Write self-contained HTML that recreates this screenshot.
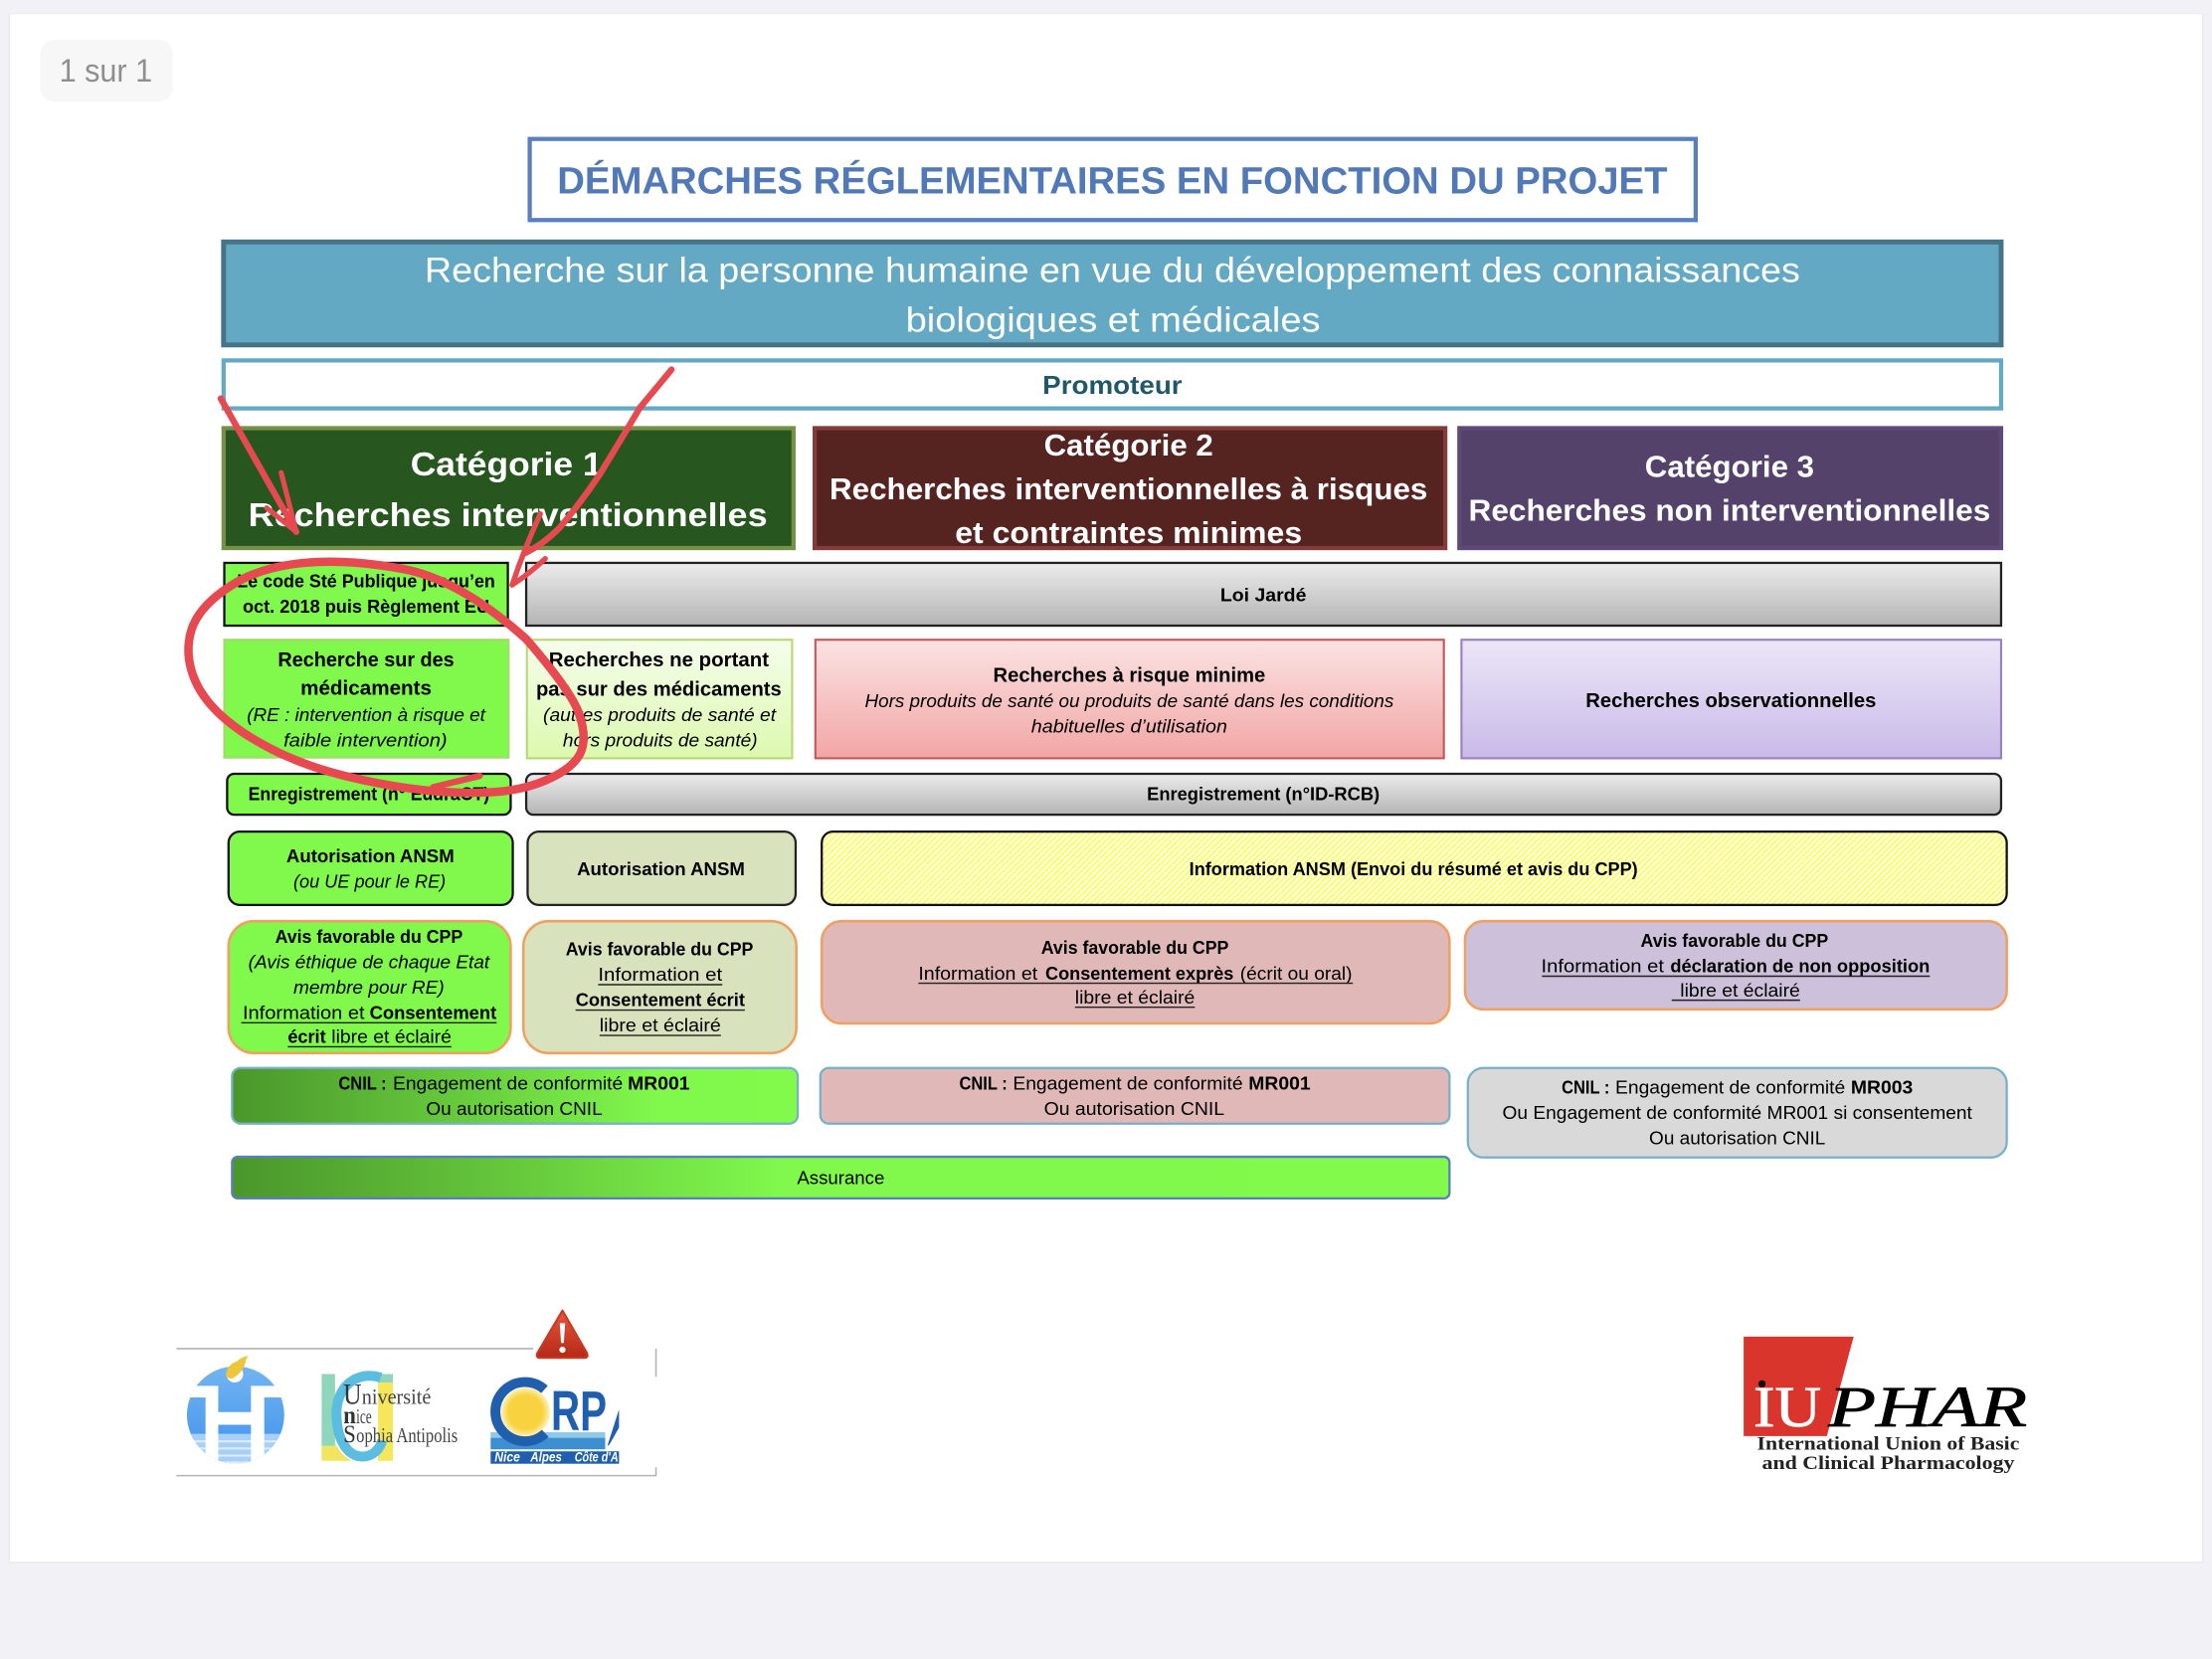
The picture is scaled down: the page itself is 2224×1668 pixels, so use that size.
<!DOCTYPE html>
<html lang="fr"><head><meta charset="utf-8"><title>Démarches réglementaires</title>
<style>
html,body{margin:0;padding:0;background:#f1f1f6;width:2224px;height:1668px;overflow:hidden}
svg{display:block}
text{font-family:"Liberation Sans",sans-serif;fill:#000;font-size:13px;transform:translateY(-0.7px)}
.n{transform:none}
.b{font-weight:bold}.i{font-style:italic}
.m{font-size:14.3px}
.sf{font-family:"Liberation Serif",serif}
.u{stroke:#222;stroke-width:1;fill:none}
.red{fill:none;stroke:#e64a50;stroke-linecap:round;stroke-linejoin:round}
</style></head><body>
<svg xmlns="http://www.w3.org/2000/svg" width="2224" height="1668" viewBox="0 0 1568 1176">
<defs>
<linearGradient id="g1" x1="0" x2="0" y1="0" y2="1"><stop offset="0" stop-color="#ececec"/><stop offset="1" stop-color="#b4b4b4"/></linearGradient>
<linearGradient id="gl" x1="0" x2="0" y1="0" y2="1"><stop offset="0" stop-color="#f6fdec"/><stop offset="1" stop-color="#dcf9ae"/></linearGradient>
<linearGradient id="gp" x1="0" x2="0" y1="0" y2="1"><stop offset="0" stop-color="#fbe3e3"/><stop offset="1" stop-color="#f2a5a5"/></linearGradient>
<linearGradient id="gv" x1="0" x2="0" y1="0" y2="1"><stop offset="0" stop-color="#ece6f8"/><stop offset="1" stop-color="#c9bae8"/></linearGradient>
<linearGradient id="gg" x1="0" x2="1" y1="0" y2="0"><stop offset="0" stop-color="#4a962b"/><stop offset=".75" stop-color="#80f84c"/><stop offset="1" stop-color="#82fa4c"/></linearGradient>
<linearGradient id="ga" x1="0" x2="1" y1="0" y2="0"><stop offset="0" stop-color="#4a962b"/><stop offset=".45" stop-color="#80f84c"/><stop offset="1" stop-color="#82fa4c"/></linearGradient>
<linearGradient id="gt" x1="0" x2="0" y1="0" y2="1"><stop offset="0" stop-color="#e8553f"/><stop offset="1" stop-color="#b52a15"/></linearGradient>
<linearGradient id="gb" x1="0" x2="0" y1="0" y2="1"><stop offset="0" stop-color="#74b6f1"/><stop offset="1" stop-color="#3f90ec"/></linearGradient>
<radialGradient id="gs"><stop offset=".7" stop-color="#f9d33f"/><stop offset="1" stop-color="#fdf2c0"/></radialGradient>
<pattern id="h" width="3" height="3" patternUnits="userSpaceOnUse" patternTransform="rotate(45)"><rect width="3" height="3" fill="#fffff2"/><rect width="1.4" height="3" fill="#fdfd5e"/></pattern>
<clipPath id="cc"><circle cx="167" cy="1003" r="34.5"/></clipPath>
</defs>

<!-- page -->
<rect x="0" y="0" width="1568" height="1176" fill="#f1f1f6"/>
<rect x="6" y="9.5" width="1556" height="1098.5" fill="#e9e9ed"/>
<rect x="7" y="10" width="1554" height="1097" fill="#fff"/>
<rect x="28.5" y="28" width="94" height="44" rx="10" fill="#f7f7f7"/>
<text x="42" y="58" class="n" style="font-size:23px;fill:#8e8e8e" textLength="66" lengthAdjust="spacingAndGlyphs">1 sur 1</text>

<!-- title -->
<rect x="375.5" y="98.5" width="826.5" height="57.5" fill="#fff" stroke="#5a7fbd" stroke-width="3"/>
<text x="395" y="137.7" class="b" style="font-size:27px;fill:#5179b8" textLength="787" lengthAdjust="spacingAndGlyphs">DÉMARCHES RÉGLEMENTAIRES EN FONCTION DU PROJET</text>

<!-- teal -->
<rect x="158.5" y="171.5" width="1260" height="73" fill="#64a9c4" stroke="#467486" stroke-width="3.5"/>
<text x="301" y="200.5" style="font-size:25px;fill:#fff" textLength="975" lengthAdjust="spacingAndGlyphs">Recherche sur la personne humaine en vue du développement des connaissances</text>
<text x="642" y="235.7" style="font-size:25px;fill:#fff" textLength="294" lengthAdjust="spacingAndGlyphs">biologiques et médicales</text>

<!-- promoteur -->
<rect x="158.5" y="255.5" width="1260" height="34" fill="#fff" stroke="#64a9c4" stroke-width="3"/>
<text x="739" y="280" class="b" style="font-size:18px;fill:#215868" textLength="99" lengthAdjust="spacingAndGlyphs">Promoteur</text>

<!-- categories -->
<rect x="158.5" y="303.5" width="404" height="85" fill="#27561f" stroke="#76904a" stroke-width="3"/>
<text x="291" y="337.7" class="b" style="font-size:23.5px;fill:#fff" textLength="136" lengthAdjust="spacingAndGlyphs">Catégorie 1</text>
<text x="176" y="373.7" class="b" style="font-size:23.5px;fill:#fff" textLength="368" lengthAdjust="spacingAndGlyphs">Recherches interventionnelles</text>

<rect x="577.5" y="303.5" width="447" height="85" fill="#552320" stroke="#843c39" stroke-width="3"/>
<text x="740" y="323.7" class="b" style="font-size:21.5px;fill:#fff" textLength="120" lengthAdjust="spacingAndGlyphs">Catégorie 2</text>
<text x="588" y="354.7" class="b" style="font-size:21.5px;fill:#fff" textLength="424" lengthAdjust="spacingAndGlyphs">Recherches interventionnelles à risques</text>
<text x="677" y="385.7" class="b" style="font-size:21.5px;fill:#fff" textLength="246" lengthAdjust="spacingAndGlyphs">et contraintes minimes</text>

<rect x="1034.5" y="303.5" width="384" height="85" fill="#54426b" stroke="#5f497a" stroke-width="3"/>
<text x="1166" y="338.7" class="b" style="font-size:21.5px;fill:#fff" textLength="120" lengthAdjust="spacingAndGlyphs">Catégorie 3</text>
<text x="1041" y="369.7" class="b" style="font-size:21.5px;fill:#fff" textLength="370" lengthAdjust="spacingAndGlyphs">Recherches non interventionnelles</text>

<!-- row loi -->
<rect x="159" y="399" width="201" height="44.5" fill="#80f84c" stroke="#111" stroke-width="1.6"/>
<text x="168" y="417" class="b" textLength="183" lengthAdjust="spacingAndGlyphs">Le code Sté Publique jusqu’en</text>
<text x="172" y="435" class="b" textLength="175" lengthAdjust="spacingAndGlyphs">oct. 2018 puis Règlement EU</text>
<rect x="373" y="399" width="1045.5" height="44.5" fill="url(#g1)" stroke="#222" stroke-width="1.6"/>
<text x="865" y="427" class="b" textLength="61" lengthAdjust="spacingAndGlyphs">Loi Jardé</text>

<!-- row types -->
<rect x="159" y="453.5" width="201.5" height="83.5" fill="#80f84c" stroke="#a6d86e" stroke-width="1.5"/>
<text x="197" y="473" class="b m" textLength="125" lengthAdjust="spacingAndGlyphs">Recherche sur des</text>
<text x="213" y="493" class="b m" textLength="93" lengthAdjust="spacingAndGlyphs">médicaments</text>
<text x="175" y="512" class="i" textLength="169" lengthAdjust="spacingAndGlyphs">(RE : intervention à risque et</text>
<text x="201" y="530" class="i" textLength="116" lengthAdjust="spacingAndGlyphs">faible intervention)</text>

<rect x="373.5" y="453.5" width="188" height="84" fill="url(#gl)" stroke="#b8d878" stroke-width="1.5"/>
<text x="389" y="473" class="b m" textLength="156" lengthAdjust="spacingAndGlyphs">Recherches ne portant</text>
<text x="380" y="494" class="b m" textLength="174" lengthAdjust="spacingAndGlyphs">pas sur des médicaments</text>
<text x="385" y="512" class="i" textLength="165" lengthAdjust="spacingAndGlyphs">(autres produits de santé et</text>
<text x="399" y="530" class="i" textLength="138" lengthAdjust="spacingAndGlyphs">hors produits de santé)</text>

<rect x="578" y="453.5" width="445.5" height="84" fill="url(#gp)" stroke="#c25a5a" stroke-width="1.5"/>
<text x="704" y="484" class="b m" textLength="193" lengthAdjust="spacingAndGlyphs">Recherches à risque minime</text>
<text x="613" y="502" class="i" textLength="375" lengthAdjust="spacingAndGlyphs">Hors produits de santé ou produits de santé dans les conditions</text>
<text x="731" y="520" class="i" textLength="139" lengthAdjust="spacingAndGlyphs">habituelles d’utilisation</text>

<rect x="1036" y="453.5" width="382.5" height="84" fill="url(#gv)" stroke="#9a80c0" stroke-width="1.5"/>
<text x="1124" y="502" class="b m" textLength="206" lengthAdjust="spacingAndGlyphs">Recherches observationnelles</text>

<!-- enregistrement -->
<rect x="161" y="548.5" width="201" height="29" rx="5" fill="#80f84c" stroke="#111" stroke-width="1.6"/>
<text x="176" y="568" class="b" textLength="171" lengthAdjust="spacingAndGlyphs">Enregistrement (n° EudraCT)</text>
<rect x="373" y="548.5" width="1045.5" height="29" rx="5" fill="url(#g1)" stroke="#222" stroke-width="1.6"/>
<text x="813" y="568" class="b" textLength="165" lengthAdjust="spacingAndGlyphs">Enregistrement  (n°ID-RCB)</text>

<!-- autorisation -->
<rect x="162" y="589.5" width="201.5" height="52" rx="8" fill="#80f84c" stroke="#111" stroke-width="1.6"/>
<text x="203" y="612" class="b" textLength="119" lengthAdjust="spacingAndGlyphs">Autorisation ANSM</text>
<text x="208" y="630" class="i" textLength="108" lengthAdjust="spacingAndGlyphs">(ou UE pour le RE)</text>
<rect x="374" y="589.5" width="190" height="52" rx="8" fill="#d8e2bd" stroke="#222" stroke-width="1.6"/>
<text x="409" y="621" class="b" textLength="119" lengthAdjust="spacingAndGlyphs">Autorisation ANSM</text>
<rect x="582.5" y="589.5" width="840" height="52" rx="8" fill="url(#h)" stroke="#111" stroke-width="1.6"/>
<text x="843" y="621" class="b" textLength="318" lengthAdjust="spacingAndGlyphs">Information ANSM (Envoi du résumé et avis du CPP)</text>

<!-- avis -->
<rect x="162" y="653" width="200" height="93.5" rx="18" fill="#80f84c" stroke="#f0a060" stroke-width="1.8"/>
<text x="195" y="669" class="b" textLength="133" lengthAdjust="spacingAndGlyphs">Avis favorable du CPP</text>
<text x="176" y="687" class="i" textLength="171" lengthAdjust="spacingAndGlyphs">(Avis éthique de chaque Etat</text>
<text x="208" y="705" class="i" textLength="107" lengthAdjust="spacingAndGlyphs">membre pour RE)</text>
<text x="172" y="723" textLength="86.5" lengthAdjust="spacingAndGlyphs">Information et</text>
<text x="262" y="723" class="b" textLength="90" lengthAdjust="spacingAndGlyphs">Consentement</text>
<line x1="171" x2="352" y1="725" y2="725" class="u"/>
<text x="204" y="740" class="b" textLength="27" lengthAdjust="spacingAndGlyphs">écrit</text>
<text x="235" y="740" textLength="85" lengthAdjust="spacingAndGlyphs">libre et éclairé</text>
<line x1="204" x2="320" y1="742" y2="742" class="u"/>

<rect x="371" y="653" width="193.5" height="93.5" rx="18" fill="#d8e2bd" stroke="#f0a060" stroke-width="1.8"/>
<text x="401" y="678" class="b" textLength="133" lengthAdjust="spacingAndGlyphs">Avis favorable du CPP</text>
<text x="424" y="696" textLength="88" lengthAdjust="spacingAndGlyphs">Information et</text>
<line x1="424" x2="512" y1="698" y2="698" class="u"/>
<text x="408" y="714" class="b" textLength="120" lengthAdjust="spacingAndGlyphs">Consentement écrit</text>
<line x1="408" x2="528" y1="716" y2="716" class="u"/>
<text x="425" y="732" textLength="86" lengthAdjust="spacingAndGlyphs">libre et éclairé</text>
<line x1="425" x2="511" y1="734" y2="734" class="u"/>

<rect x="582.5" y="653" width="445" height="72.5" rx="14" fill="#e0b8b8" stroke="#f0a060" stroke-width="1.8"/>
<text x="738" y="677" class="b" textLength="133" lengthAdjust="spacingAndGlyphs">Avis favorable du CPP</text>
<text x="651" y="695" textLength="84.5" lengthAdjust="spacingAndGlyphs">Information et</text>
<text x="741" y="695" class="b" textLength="133.5" lengthAdjust="spacingAndGlyphs">Consentement exprès</text>
<text x="879" y="695" textLength="79.5" lengthAdjust="spacingAndGlyphs">(écrit ou oral)</text>
<line x1="651" x2="959" y1="697" y2="697" class="u"/>
<text x="762" y="712" textLength="85" lengthAdjust="spacingAndGlyphs">libre et éclairé</text>
<line x1="762" x2="847" y1="714" y2="714" class="u"/>

<rect x="1038.5" y="653" width="384" height="62.5" rx="13" fill="#ccc0da" stroke="#f0a060" stroke-width="1.8"/>
<text x="1163" y="672" class="b" textLength="133" lengthAdjust="spacingAndGlyphs">Avis favorable du CPP</text>
<text x="1092.5" y="690" textLength="87" lengthAdjust="spacingAndGlyphs">Information et</text>
<text x="1184" y="690" class="b" textLength="184" lengthAdjust="spacingAndGlyphs">déclaration de non opposition</text>
<line x1="1093" x2="1368" y1="692" y2="692" class="u"/>
<text x="1191" y="707" textLength="85" lengthAdjust="spacingAndGlyphs">libre et éclairé</text>
<line x1="1185" x2="1276" y1="709" y2="709" class="u"/>

<!-- CNIL -->
<rect x="164.5" y="757" width="401" height="39.5" rx="6" fill="url(#gg)" stroke="#78b0c8" stroke-width="1.6"/>
<text x="240" y="773" class="b" textLength="34" lengthAdjust="spacingAndGlyphs">CNIL :</text>
<text x="278.5" y="773" textLength="163" lengthAdjust="spacingAndGlyphs">Engagement de conformité</text>
<text x="445" y="773" class="b" textLength="44" lengthAdjust="spacingAndGlyphs">MR001</text>
<text x="302" y="791" textLength="125" lengthAdjust="spacingAndGlyphs">Ou autorisation CNIL</text>

<rect x="581.5" y="757" width="446" height="39.5" rx="6" fill="#e0b8b8" stroke="#78b0c8" stroke-width="1.6"/>
<text x="680" y="773" class="b" textLength="34" lengthAdjust="spacingAndGlyphs">CNIL :</text>
<text x="718" y="773" textLength="163" lengthAdjust="spacingAndGlyphs">Engagement de conformité</text>
<text x="885" y="773" class="b" textLength="44" lengthAdjust="spacingAndGlyphs">MR001</text>
<text x="740" y="791" textLength="128" lengthAdjust="spacingAndGlyphs">Ou  autorisation CNIL</text>

<rect x="1040.5" y="757" width="382" height="63.5" rx="11" fill="#d9d9d9" stroke="#78b0c8" stroke-width="1.6"/>
<text x="1107" y="776" class="b" textLength="34" lengthAdjust="spacingAndGlyphs">CNIL :</text>
<text x="1145" y="776" textLength="163" lengthAdjust="spacingAndGlyphs">Engagement de conformité</text>
<text x="1312" y="776" class="b" textLength="44" lengthAdjust="spacingAndGlyphs">MR003</text>
<text x="1065" y="794" textLength="333" lengthAdjust="spacingAndGlyphs">Ou Engagement de conformité MR001 si consentement</text>
<text x="1169" y="812" textLength="125" lengthAdjust="spacingAndGlyphs">Ou autorisation CNIL</text>

<!-- assurance -->
<rect x="164.5" y="820" width="863" height="29.5" rx="4" fill="url(#ga)" stroke="#5a7fbd" stroke-width="1.6"/>
<text x="565" y="840" textLength="62" lengthAdjust="spacingAndGlyphs">Assurance</text>

<!-- logo frame -->
<path d="M125 956H378M465 956V976M465 1040V1046H125" fill="none" stroke="#b4b4b4" stroke-width="1.1"/>

<!-- hospital logo -->
<g clip-path="url(#cc)">
<rect x="130" y="966" width="74" height="74" fill="url(#gb)"/>
<rect x="130" y="1016.4" width="74" height="24" fill="#a8cff6"/>
<path d="M130 1021h74v1.5H130zM130 1026h74v1.5H130zM130 1031h74v1.5H130zM130 1036h74v1.5H130z" fill="#dcecfb"/>
<path d="M130 990.6V982.4h24.7v18.6h23.2V982.4H204V990.6H187.3V1040H177.9V1010H154.7V1040H145.7V990.6z" fill="#fff"/>
</g>
<circle cx="166.4" cy="974" r="6" fill="#fff"/>
<path d="M160 975q1-8 8-10 3-3 8-4-2 3-2 5-2 7-9 11-3 1-5-2z" fill="#eec63c"/>

<!-- UNS logo -->
<rect x="228" y="974" width="9.5" height="51" fill="#8fd6bd"/>
<rect x="228" y="1025" width="9.5" height="10.5" fill="#f2e45c"/>
<path d="M237.5 1022q3 9 12 13.5h-12z" fill="#f2e45c"/>
<rect x="268" y="974" width="10.5" height="8" fill="#8fd6bd"/>
<rect x="268" y="980" width="10.5" height="55.5" fill="#f5e65a"/>
<path d="M270 976.5C252 971 238 984 238.5 1003C239 1022 247 1033 258 1032.5C264 1032 269 1028 271 1021" fill="none" stroke="#5bbde0" stroke-width="7"/>
<text x="243.3" y="995.3" class="sf n" style="font-size:21px;fill:#333" textLength="13" lengthAdjust="spacingAndGlyphs">U</text>
<text x="256.5" y="995.3" class="sf n" style="font-size:15.5px;fill:#444" textLength="49" lengthAdjust="spacingAndGlyphs">niversité</text>
<text x="243.3" y="1009" class="sf b n" style="font-size:18px;fill:#333" textLength="9" lengthAdjust="spacingAndGlyphs">n</text>
<text x="252.5" y="1009" class="sf n" style="font-size:14.5px;fill:#444" textLength="11" lengthAdjust="spacingAndGlyphs">ice</text>
<text x="243.3" y="1022.3" class="sf n" style="font-size:18px;fill:#333" textLength="9" lengthAdjust="spacingAndGlyphs">S</text>
<text x="252.5" y="1022.3" class="sf n" style="font-size:14.5px;fill:#444" textLength="72" lengthAdjust="spacingAndGlyphs">ophia Antipolis</text>

<!-- CRPV logo -->
<rect x="347.8" y="1015.2" width="81.2" height="4" fill="#8fc8e8"/>
<rect x="347.8" y="1019.2" width="81.2" height="8.2" fill="#3d8fd0"/>
<rect x="347.8" y="1028.8" width="91" height="8.8" fill="#1f5fae"/>
<circle cx="372.5" cy="1001" r="17.5" fill="url(#gs)"/>
<path d="M386 984.9A21 21 0 1 0 386.5 1016" fill="none" stroke="#1f5fae" stroke-width="7"/>
<text x="390.6" y="1014" class="b n" style="font-size:40px;fill:#1f5fae" textLength="39.5" lengthAdjust="spacingAndGlyphs">RP</text>
<path d="M430.5 1025L438.8 999V1012L432 1024z" fill="#1f5fae"/>
<text x="350.6" y="1035.9" class="b i n" style="font-size:10px;fill:#fff" textLength="18" lengthAdjust="spacingAndGlyphs">Nice</text>
<text x="376" y="1035.9" class="b i n" style="font-size:10px;fill:#fff" textLength="22.3" lengthAdjust="spacingAndGlyphs">Alpes</text>
<text x="407.3" y="1035.9" class="b i n" style="font-size:10px;fill:#fff" textLength="31" lengthAdjust="spacingAndGlyphs">Côte d'A</text>

<!-- warning -->
<path d="M398.7 929 L416 959 Q417.5 962.5 414 962.5 L383 962.5 Q379.5 962.5 381 959 Z" fill="url(#gt)" stroke="#c93a25" stroke-width="1.5" stroke-linejoin="round"/>
<path d="M396.8 938h3.8l-.9 14h-2z" fill="#fff"/>
<circle cx="398.7" cy="956.8" r="2.2" fill="#fff"/>

<!-- IUPHAR -->
<path d="M1236 947.5H1314L1295 1018H1236z" fill="#d9352c"/>
<text x="1243" y="1011" class="sf n" style="font-size:41px;fill:#fff;stroke:#fff;stroke-width:.5" textLength="48" lengthAdjust="spacingAndGlyphs">IU</text>
<circle cx="1249" cy="981" r="2.6" fill="#111"/>
<text x="1296" y="1011" class="sf i n" style="font-size:41px;stroke:#000;stroke-width:.5" textLength="141" lengthAdjust="spacingAndGlyphs">PHAR</text>
<text x="1245.5" y="1027.5" class="sf b n" style="font-size:13px;fill:#222" textLength="186" lengthAdjust="spacingAndGlyphs">International Union of Basic</text>
<text x="1249" y="1041.5" class="sf b n" style="font-size:13px;fill:#222" textLength="179" lengthAdjust="spacingAndGlyphs">and Clinical Pharmacology</text>

<!-- red annotations -->
<path class="red" stroke-width="4.5" d="M156.5 282.5L210 377"/>
<path class="red" stroke-width="3.6" d="M199.3 335L210 377L189 360"/>
<path class="red" stroke-width="4.5" d="M476 262L453.6 289Q440 312 425.3 336Q412 356 397 373.7Q385 386 371.3 392.5"/>
<path class="red" stroke-width="3.8" d="M383 364.3Q372 388 363 414.7Q376 406 386.5 396"/>
<path class="red" stroke-width="6" d="M373 453Q326 411 286.5 403.5Q247 396 215.5 399Q184 402 164 415Q143.5 428 137 443Q131 458 135.5 474.5Q140 491 154.5 505Q169 519 192.5 531Q216 543 244.5 550Q273 557 299.5 560Q326 563 349.5 561.5Q373 560 390.5 551.5Q408 543 412 532.5Q416 522 410.5 506Q405 490 373 453"/>
<path class="red" stroke-width="4.5" d="M340 550L307 558"/>
</svg>
</body></html>
